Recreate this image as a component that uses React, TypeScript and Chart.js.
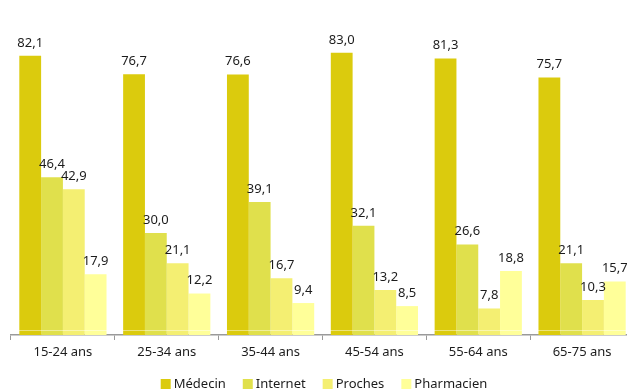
import React, { useEffect, useRef } from "react";
import { Chart, registerables } from "chart.js";

Chart.register(...registerables);

// Age groups and share of respondents (%) per information source
const ageGroups = ["15-24 ans", "25-34 ans", "35-44 ans", "45-54 ans", "55-64 ans", "65-75 ans"];
const medecin = [82.1, 76.7, 76.6, 83.0, 81.3, 75.7];
const internet = [46.4, 30.0, 39.1, 32.1, 26.6, 21.1];
const proches = [42.9, 21.1, 16.7, 13.2, 7.8, 10.3];
const pharmacien = [17.9, 12.2, 9.4, 8.5, 18.8, 15.7];

const seriesNames = ["Médecin", "Internet", "Proches", "Pharmacien"];
const seriesColors = ["#DBCB0D", "#E0E04C", "#F4EF72", "#FFFF99"];

const FONT = "'Noto Sans', 'DejaVu Sans', sans-serif";
const TEXT = "#1c1c1c";

const fmt = (v: number) => v.toFixed(1).replace(".", ",");

// Value labels above each bar
const valueLabels = {
  id: "valueLabels",
  afterDatasetsDraw(chart: any) {
    const ctx = chart.ctx;
    ctx.save();
    ctx.font = `13px ${FONT}`;
    ctx.fillStyle = TEXT;
    ctx.textAlign = "center";
    ctx.textBaseline = "middle";
    chart.data.datasets.forEach((ds: any, i: number) => {
      const meta = chart.getDatasetMeta(i);
      meta.data.forEach((bar: any, j: number) => {
        ctx.fillText(fmt(ds.data[j]), bar.x, bar.y - 13);
      });
    });
    ctx.restore();
  },
};

// Faint light rule just above the baseline, across the bars
const baseRule = {
  id: "baseRule",
  afterDatasetsDraw(chart: any) {
    const { ctx, chartArea } = chart;
    ctx.save();
    ctx.strokeStyle = "rgba(255,255,255,0.45)";
    ctx.lineWidth = 1;
    ctx.beginPath();
    ctx.moveTo(chartArea.left, chartArea.bottom - 4.5);
    ctx.lineTo(chartArea.right, chartArea.bottom - 4.5);
    ctx.stroke();
    ctx.restore();
  },
};

// Compact legend row centred under the plot
const bottomLegend = {
  id: "bottomLegend",
  afterDraw(chart: any) {
    const ctx = chart.ctx;
    ctx.save();
    ctx.font = `13px ${FONT}`;
    const box = 10;
    const gapText = 3;
    const gapItem = 17;
    const widths = seriesNames.map((n) => box + gapText + ctx.measureText(n).width);
    const total = widths.reduce((a, b) => a + b, 0) + gapItem * (seriesNames.length - 1);
    let x = chart.width / 2 - total / 2;
    const y = 384;
    seriesNames.forEach((name, i) => {
      ctx.fillStyle = seriesColors[i];
      ctx.fillRect(x, y - box / 2, box, box);
      ctx.fillStyle = TEXT;
      ctx.textAlign = "left";
      ctx.textBaseline = "middle";
      ctx.fillText(name, x + box + gapText, y);
      x += widths[i] + gapItem;
    });
    ctx.restore();
  },
};

export default function App() {
  const canvasRef = useRef<HTMLCanvasElement | null>(null);

  useEffect(() => {
    if (!canvasRef.current) return;
    const values = [medecin, internet, proches, pharmacien];
    const chart = new Chart(canvasRef.current, {
      type: "bar",
      data: {
        labels: ageGroups,
        datasets: seriesNames.map((name, i) => ({
          label: name,
          data: values[i],
          backgroundColor: seriesColors[i],
          borderWidth: 0,
          categoryPercentage: 0.84,
          barPercentage: 1.0,
        })),
      },
      options: {
        animation: false,
        responsive: false,
        maintainAspectRatio: false,
        layout: { padding: { top: 29, left: 11, right: 14, bottom: 24 } },
        plugins: {
          legend: { display: false },
          tooltip: { enabled: false },
          title: { display: false },
        },
        scales: {
          x: {
            grid: {
              offset: true,
              drawOnChartArea: false,
              drawTicks: true,
              tickLength: 5,
              color: "#9a9a9a",
            },
            border: { display: true, color: "#9a9a9a", width: 1.5 },
            ticks: {
              color: TEXT,
              font: { family: FONT, size: 13 },
              padding: 4,
              maxRotation: 0,
            },
            afterFit(scale: any) {
              scale.height = 33;
            },
          },
          y: {
            display: false,
            min: 0,
            max: 90,
          },
        },
      },
      plugins: [valueLabels, baseRule, bottomLegend],
    });
    return () => chart.destroy();
  }, []);

  return (
    <div
      style={{
        position: "fixed",
        left: 0,
        top: 0,
        width: 627,
        height: 392,
        overflow: "hidden",
        background: "#ffffff",
      }}
    >
      <canvas ref={canvasRef} width={648} height={392} style={{ display: "block" }} />
    </div>
  );
}
